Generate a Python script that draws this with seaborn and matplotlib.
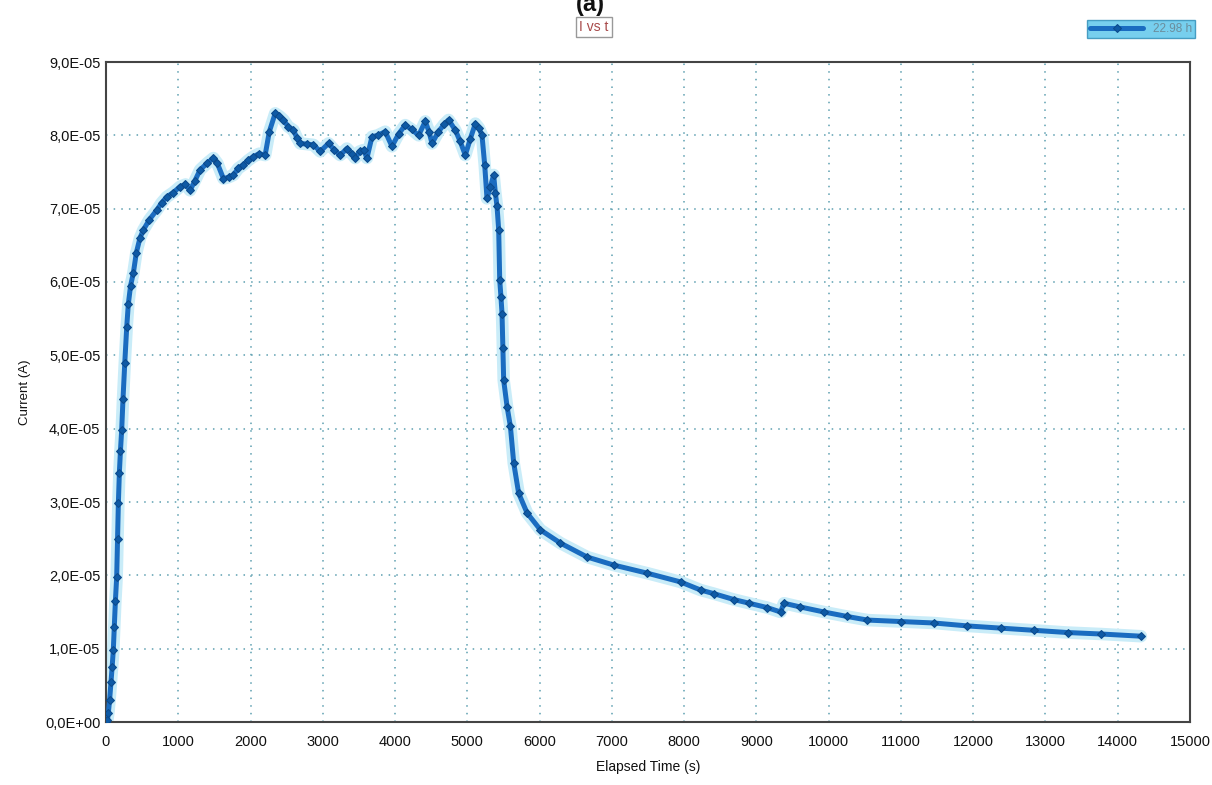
import matplotlib
matplotlib.use("Agg")
import matplotlib.pyplot as plt
import seaborn as sns
import pandas as pd
from matplotlib.ticker import MultipleLocator, FuncFormatter

# ---- data (time in s, current in units of 1e-5 A) ----
time_s = [0, 20, 32, 50, 70, 85, 101, 115, 130, 148, 160, 171, 185, 200, 217, 235,
          260, 287, 309, 340, 378, 420, 470, 517, 600, 702, 770, 840, 930, 1025,
          1100, 1163, 1230, 1302, 1400, 1486, 1540, 1625, 1700, 1763, 1830, 1902,
          1970, 2040, 2120, 2202, 2260, 2341, 2400, 2456, 2520, 2594, 2640, 2687,
          2780, 2871, 2964, 3079, 3160, 3241, 3333, 3400, 3449, 3510, 3564, 3611,
          3680, 3760, 3864, 3957, 4050, 4141, 4230, 4326, 4418, 4470, 4511, 4600,
          4680, 4741, 4834, 4900, 4972, 5040, 5111, 5160, 5203, 5240, 5272, 5320,
          5364, 5388, 5411, 5434, 5448, 5465, 5480, 5492, 5503, 5550, 5596, 5642,
          5710, 5827, 6011, 6288, 6657, 7026, 7488, 7950, 8227, 8412, 8688, 8900,
          9150, 9335, 9381, 9600, 9935, 10250, 10536, 10997, 11459, 11921, 12382,
          12844, 13306, 13767, 14321]
current_e5 = [0.0, 0.03, 0.12, 0.3, 0.55, 0.75, 0.98, 1.3, 1.65, 1.98, 2.5, 2.98,
              3.4, 3.7, 3.98, 4.4, 4.9, 5.39, 5.7, 5.95, 6.12, 6.4, 6.6, 6.71, 6.85,
              6.98, 7.08, 7.16, 7.22, 7.30,
              7.33, 7.25, 7.38, 7.53, 7.62, 7.69, 7.62, 7.41, 7.43, 7.46, 7.55, 7.60,
              7.66, 7.71, 7.75, 7.73, 8.05, 8.30, 8.26, 8.21, 8.12, 8.07, 7.97, 7.89,
              7.88, 7.87, 7.78, 7.89, 7.80, 7.73, 7.82, 7.75, 7.69, 7.78, 7.80, 7.69,
              7.98, 8.00, 8.05, 7.85, 8.02, 8.14, 8.08, 8.00, 8.19, 8.05, 7.89, 8.05,
              8.15, 8.21, 8.07, 7.92, 7.73, 7.95, 8.16, 8.10, 8.00, 7.60, 7.14, 7.30,
              7.46, 7.21, 7.03, 6.71, 6.03, 5.80, 5.57, 5.10, 4.66, 4.30, 4.03, 3.53,
              3.12, 2.85, 2.62, 2.44, 2.25, 2.14, 2.03, 1.91, 1.80, 1.75, 1.67, 1.62,
              1.56, 1.50, 1.62, 1.57, 1.50, 1.44, 1.39, 1.37, 1.35, 1.31, 1.28,
              1.25, 1.22, 1.20, 1.17]
series_label = "22.98 h"
x_ticks = list(range(0, 15001, 1000))

df = pd.DataFrame({"t": time_s, "I": [v * 1e-5 for v in current_e5]})

sns.set_theme(style="white")
plt.rcParams["font.family"] = ["Liberation Sans", "DejaVu Sans"]

fig = plt.figure(figsize=(12.12, 7.85), dpi=100)
ax = fig.add_axes([106 / 1212, 63 / 785, (1190 - 106) / 1212, (722 - 62) / 785])

# faint halo under the curve
ax.plot(df["t"], df["I"], color="#c9ecf8", lw=9, solid_capstyle="round", zorder=2)
sns.lineplot(data=df, x="t", y="I", ax=ax, color="#1a6cc0", lw=3.6, marker="D",
             markersize=4.5, markeredgecolor="#0b4a8c", markerfacecolor="#0e5aa5",
             label=series_label, zorder=3, sort=False)

ax.set_xlim(0, 15000)
ax.set_ylim(0, 9e-5)
ax.set_xticks(x_ticks)
ax.xaxis.set_minor_locator(MultipleLocator(500))
ax.yaxis.set_major_locator(MultipleLocator(1e-5))
ax.yaxis.set_minor_locator(MultipleLocator(5e-6))

def yfmt(v, pos):
    if abs(v) < 1e-12:
        return "0,0E+00"
    return ("%.1fE-05" % (v / 1e-5)).replace(".", ",")

ax.yaxis.set_major_formatter(FuncFormatter(yfmt))
ax.tick_params(axis="both", which="both", direction="inout", color="#333333",
               labelsize=10.5, labelcolor="#111111")
ax.tick_params(axis="both", which="major", length=6, width=1.2)
ax.tick_params(axis="both", which="minor", length=5, width=1.0)
ax.tick_params(axis="x", pad=6)
ax.tick_params(axis="y", pad=1)

ax.grid(True, which="major", linestyle=(0, (1, 4)), color="#5d9fb0", lw=1.1)
for s in ax.spines.values():
    s.set_color("#444444")
    s.set_linewidth(1.5)

ax.set_xlabel("Elapsed Time (s)", fontsize=10, labelpad=8, color="#111111")
ax.set_ylabel("Current (A)", fontsize=9.5, labelpad=10, color="#111111")

# legend box top-right
leg = ax.legend(loc="lower right", bbox_to_anchor=(1.01, 1.028), frameon=True,
                fontsize=8.5, handlelength=4.5, borderpad=0.25, fancybox=False)
leg.get_frame().set_facecolor("#55c4ea")
leg.get_frame().set_edgecolor("#2a8bb5")
for t in leg.get_texts():
    t.set_color("#6b8d9c")

# title pieces
fig.text(590 / 1212, 1 - 4 / 785, "(a)", ha="center", va="center", fontsize=17,
         fontweight="bold", color="#111111")
fig.text(594 / 1212, 1 - 27 / 785, "I vs t", ha="center", va="center", fontsize=10,
         color="#a84a4a",
         bbox=dict(boxstyle="square,pad=0.25", facecolor="white", edgecolor="#999999", lw=1))

fig.savefig("out.png", dpi=100)
